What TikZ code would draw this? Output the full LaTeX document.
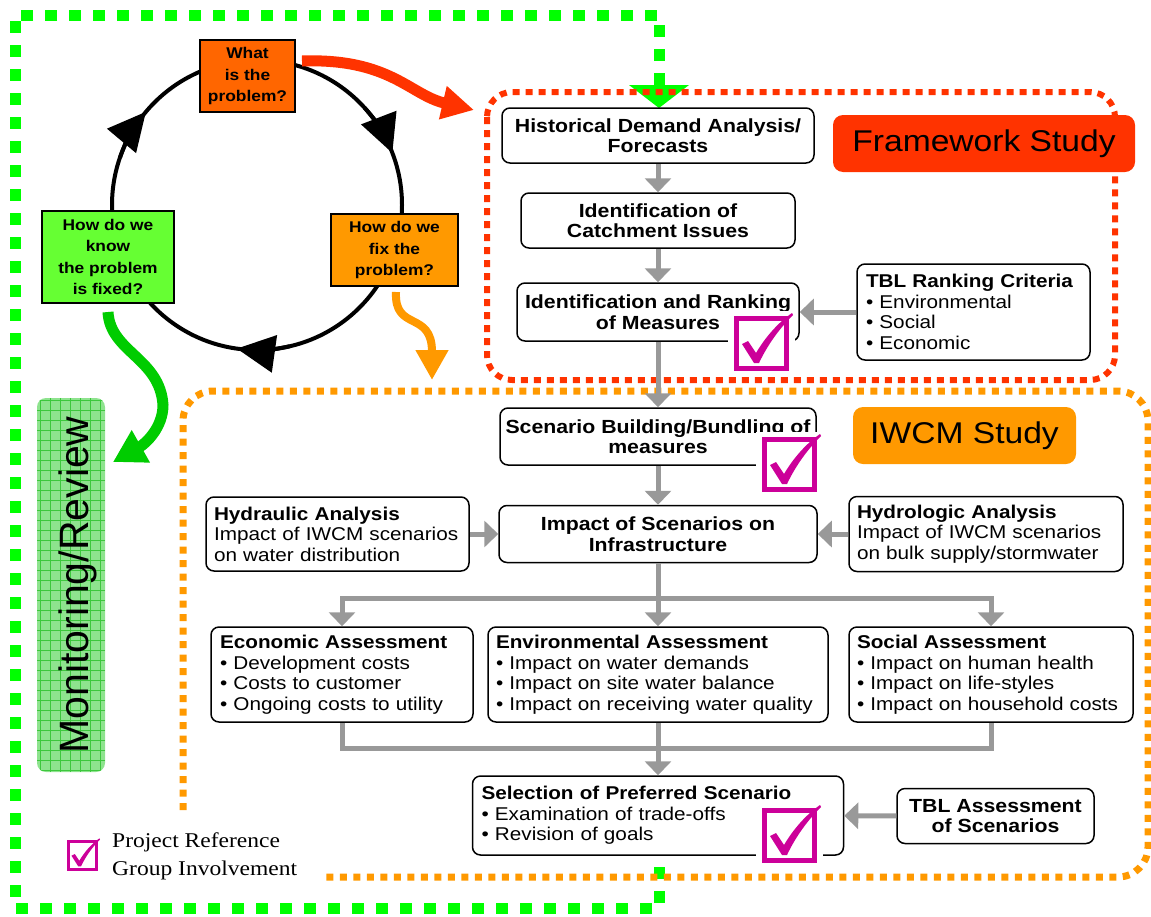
\documentclass[tikz,border=0pt]{standalone}
\usepackage{fontspec}
\setmainfont[FakeStretch=1.12]{Liberation Sans}
\newfontfamily\legendfont[FakeStretch=1.12]{Liberation Serif}
\newfontfamily\monitorfont{Liberation Sans}
\usetikzlibrary{arrows.meta}

\definecolor{bordergreen}{HTML}{00FF00}
\definecolor{borderred}{HTML}{FF3300}
\definecolor{borderorange}{HTML}{FF9900}
\definecolor{whatorange}{HTML}{FF6600}
\definecolor{fixorange}{HTML}{FF9900}
\definecolor{knowgreen}{HTML}{66FF33}
\definecolor{reviewgreen}{HTML}{00CC00}
\definecolor{arrowgray}{HTML}{999999}
\definecolor{tickmagenta}{HTML}{CC0099}
\definecolor{monfill}{HTML}{8EE38E}
\definecolor{mongrid}{HTML}{3DC73D}

\tikzset{
  greenframe/.style={draw=bordergreen, line width=11pt, dash pattern=on 12pt off 12pt},
  redframe/.style={draw=borderred, line width=6pt, dash pattern=on 7pt off 6pt},
  orangeframe/.style={draw=borderorange, line width=7pt, dash pattern=on 7pt off 6.5pt},
  flowbox/.style={draw, fill=white, rounded corners=8pt, line width=1.5pt, align=center,
    inner sep=0pt, font=\bfseries\fontsize{19}{20.5}\selectfont},
  listbox/.style={draw, fill=white, rounded corners=8pt, line width=1.5pt, align=left,
    inner xsep=8pt, inner ysep=0pt, font=\fontsize{18.5}{20.5}\selectfont},
  cyclebox/.style={draw, line width=1.5pt, align=center, inner sep=0pt,
    font=\bfseries\fontsize{15.5}{21.3}\selectfont},
  studylabel/.style={rounded corners=10pt, inner sep=0pt, font=\fontsize{30}{30}\selectfont},
  grayline/.style={draw=arrowgray, line width=5pt},
  grayarrow/.style={grayline, -{Triangle[length=14pt,width=26pt]}},
  cyclearrow/.style={line width=4pt, -{Triangle[length=38pt,width=37pt]}},
  pics/tickbox/.style={code={
    \fill[white] (-6,-5) rectangle (61,60);
    \draw[tickmagenta, line width=#1] (2.5,2.5) rectangle (52.5,52.5);
    \fill[tickmagenta] (8,28) -- (14,25) -- (22,37) .. controls (32,20) and (45,6) .. (58,-3)
      -- (59,-1) .. controls (46,12) and (34,28) .. (25,47) -- (20,47) -- cycle;
  }},
  pics/tickbox/.default=5pt
}

\begin{document}
\begin{tikzpicture}[x=1pt,y=-1pt]
\useasboundingbox (0,0) rectangle (1151,916);

% dotted frames
\draw[greenframe] (659,85) -- (659,15) -- (15,15) -- (15,908) -- (659,908) -- (659,857);
\fill[bordergreen] (629,85) -- (689,85) -- (659,108) -- cycle;
\draw[redframe, rounded corners=25pt] (487,92) rectangle (1115,380);
\draw[orangeframe, rounded corners=30pt] (183,810) -- (183,391) -- (1148,391) -- (1148,877) -- (320,877);

% problem cycle
\coordinate (hub) at (257,205);
\draw[line width=4pt] (hub) circle[radius=145];
\draw[cyclearrow] ([shift={(199:145)}]hub) arc[start angle=199, end angle=220, radius=145];
\draw[cyclearrow] ([shift={(318:145)}]hub) arc[start angle=318, end angle=339, radius=145];
\draw[cyclearrow] ([shift={(77:145)}]hub) arc[start angle=77, end angle=98, radius=145];

\node[cyclebox, fill=whatorange, minimum width=95pt, minimum height=72pt] (what) at (247.5,76) {What\\is the\\problem?};
\node[cyclebox, fill=fixorange, minimum width=127pt, minimum height=72pt] (fix) at (394.5,250) {How do we\\fix the\\problem?};
\node[cyclebox, fill=knowgreen, minimum width=132pt, minimum height=92pt] (know) at (108,257) {How do we\\know\\the problem\\is fixed?};

% monitoring
\fill[monfill, rounded corners=9pt] (37,398) rectangle (105,772);
\begin{scope}
  \clip[rounded corners=9pt] (37,398) rectangle (105,772);
  \foreach \gx in {40,50,...,100} \draw[mongrid, line width=0.7pt] (\gx,398) -- (\gx,772);
  \foreach \gy in {400,410,...,770} \draw[mongrid, line width=0.7pt] (37,\gy) -- (105,\gy);
\end{scope}
\node[rotate=90, anchor=base, inner sep=0pt, font=\monitorfont\fontsize{41}{41}\selectfont] (monitor) at (88,585) {Monitoring/Review};

% coloured arrows out of the cycle
\coordinate (redstart) at (302,61);
\coordinate (redtip) at (474,110);
\coordinate (fixstart) at (396,292);
\coordinate (fixtip) at (432,380);
\coordinate (knowstart) at (108,312);
\coordinate (montip) at (113,462);
\draw[borderred, line width=11pt, -{Triangle[length=32pt,width=32pt]}] (redstart) .. controls (390,58) and (410,95) .. (redtip);
\draw[borderorange, line width=8pt, -{Triangle[length=30pt,width=31pt]}] (fixstart) .. controls (394,332) and (432,310) .. (fixtip);
\draw[reviewgreen, line width=11pt, -{Triangle[length=32pt,width=35pt]}] (knowstart) .. controls (110,352) and (160,358) .. (163,405) .. controls (163,428) and (145,444) .. (montip);

% framework study
\node[studylabel, fill=borderred, minimum width=302pt, minimum height=57pt] (framelabel) at (984,143.5) {Framework Study};
\node[flowbox, minimum width=312pt, minimum height=55pt] (hist) at (658,135.5) {Historical Demand Analysis/\\Forecasts};
\node[flowbox, minimum width=274pt, minimum height=55pt] (catch) at (658,220.5) {Identification of\\Catchment Issues};
\node[flowbox, minimum width=282pt, minimum height=58pt] (rank) at (658,312) {Identification and Ranking\\of Measures};
\node[listbox, inner xsep=9pt, text width=215pt, minimum height=96pt] (tblrank) at (973.5,312) {\textbf{TBL Ranking Criteria}\\• Environmental\\• Social\\• Economic};

% IWCM study
\node[studylabel, fill=borderorange, minimum width=223pt, minimum height=57pt] (iwcmlabel) at (964.5,435.5) {IWCM Study};
\node[flowbox, minimum width=316pt, minimum height=57pt] (scen) at (658,436.5) {Scenario Building/Bundling of\\measures};
\node[listbox, text width=247pt, minimum height=74pt] (hydraulic) at (337.5,534) {\textbf{Hydraulic Analysis}\\Impact of IWCM scenarios\\on water distribution};
\node[flowbox, minimum width=318pt, minimum height=57pt] (impact) at (658,534) {Impact of Scenarios on\\Infrastructure};
\node[listbox, text width=258pt, minimum height=75pt] (hydrologic) at (986,534) {\textbf{Hydrologic Analysis}\\Impact of IWCM scenarios\\on bulk supply/stormwater};
\node[listbox, inner xsep=9pt, text width=244pt, minimum height=95pt] (econ) at (342,674.5) {\textbf{Economic Assessment}\\• Development costs\\• Costs to customer\\• Ongoing costs to utility};
\node[listbox, text width=324pt, minimum height=95pt] (env) at (658,674.5) {\textbf{Environmental Assessment}\\• Impact on water demands\\• Impact on site water balance\\• Impact on receiving water quality};
\node[listbox, text width=268pt, minimum height=95pt] (social) at (991,674.5) {\textbf{Social Assessment}\\• Impact on human health\\• Impact on life-styles\\• Impact on household costs};
\node[listbox, inner xsep=9pt, text width=353pt, minimum height=79pt] (select) at (658,815.5) {\textbf{Selection of Preferred Scenario}\\• Examination of trade-offs\\• Revision of goals};
\node[flowbox, minimum width=197pt, minimum height=55pt] (tblassess) at (995.5,816) {TBL Assessment\\of Scenarios};

% connectors
\draw[grayarrow] (hist) -- (catch);
\draw[grayarrow] (catch) -- (rank);
\draw[grayarrow] (rank) -- (scen);
\draw[grayarrow] (tblrank) -- (rank);
\draw[grayarrow] (scen) -- (impact);
\draw[grayarrow] (hydraulic) -- (impact);
\draw[grayarrow] (hydrologic) -- (impact);
\draw[grayline] (impact.south) -- ++(0,35) coordinate (busA);
\draw[grayarrow] (busA) -| (econ.north);
\draw[grayarrow] (busA) -- (env.north);
\draw[grayarrow] (busA) -| (social.north);
\draw[grayline] (env.south) -- ++(0,26) coordinate (busB);
\draw[grayline] (econ.south) |- (busB) -| (social.south);
\draw[grayarrow] (busB) -- (select.north);
\draw[grayarrow] (tblassess) -- (select);

% reference group ticks
\pic (rankcheck) at (734,316) {tickbox=5pt};
\pic (scencheck) at (762,437) {tickbox=5pt};
\pic (selectcheck) at (762,808) {tickbox=5pt};
\pic[scale=0.56] (legendcheck) at (67,840) {tickbox=3.5pt};
\node[anchor=west, align=left, inner sep=0pt, font=\legendfont\fontsize{21}{28}\selectfont] (legend) at (112,856) {Project Reference\\Group Involvement};
\end{tikzpicture}
\end{document}
